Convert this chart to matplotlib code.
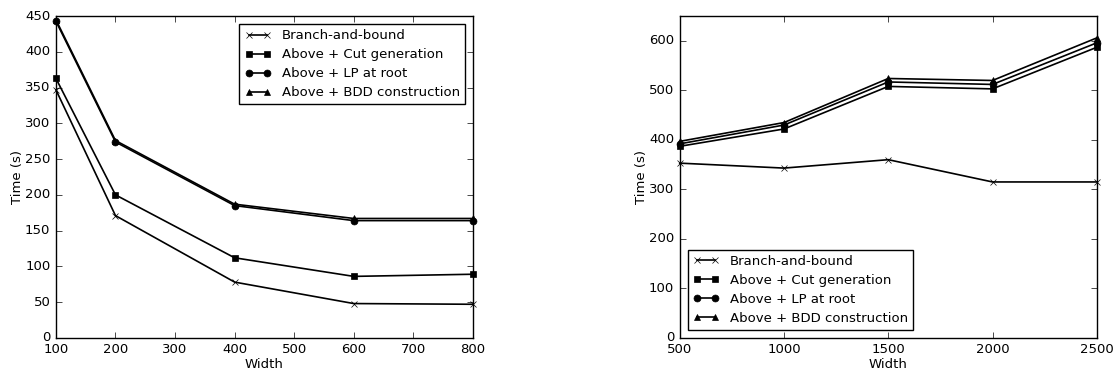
import matplotlib
matplotlib.use("Agg")
import matplotlib.pyplot as plt

plt.style.use("classic")
plt.rcParams["font.family"] = ["DejaVu Sans"]
plt.rcParams["font.size"] = 9.5

labels = ["Branch-and-bound", "Above + Cut generation", "Above + LP at root", "Above + BDD construction"]
markers = ["x", "s", "o", "^"]

widths_left = [100, 200, 400, 600, 800]
bnb_left = [347, 171, 78, 48, 47]
cut_left = [363, 200, 112, 86, 89]
lp_left = [443, 274, 185, 164, 164]
bdd_left = [445, 276, 187, 167, 167]

widths_right = [500, 1000, 1500, 2000, 2500]
bnb_right = [353, 343, 360, 315, 315]
cut_right = [387, 422, 508, 503, 587]
lp_right = [392, 430, 517, 512, 596]
bdd_right = [397, 435, 524, 520, 606]

fig = plt.figure(figsize=(11.18, 3.75), dpi=100, facecolor="white")
ax1 = fig.add_axes([0.050, 0.099, 0.373, 0.858])
ax2 = fig.add_axes([0.608, 0.099, 0.373, 0.858])

for ax, xs, series in [
    (ax1, widths_left, [bnb_left, cut_left, lp_left, bdd_left]),
    (ax2, widths_right, [bnb_right, cut_right, lp_right, bdd_right]),
]:
    for ys, m, lab in zip(series, markers, labels):
        ax.plot(xs, ys, color="black", marker=m, markersize=5, markeredgecolor="black",
                markerfacecolor="black", linewidth=1.2, label=lab, clip_on=False)
    ax.set_xlabel("Width", labelpad=1)
    ax.set_ylabel("Time (s)", labelpad=1)
    ax.set_facecolor("white")

ax1.set_xlim(100, 800)
ax1.set_ylim(0, 450)
ax1.set_yticks(range(0, 451, 50))
ax2.set_xlim(500, 2500)
ax2.set_ylim(0, 650)
ax2.set_xticks(range(500, 2501, 500))
ax2.set_yticks(range(0, 601, 100))

ax1.legend(loc="upper right", numpoints=2, fontsize=9.5, borderaxespad=0.6, handlelength=2.0,
           labelspacing=0.45, fancybox=False)
ax2.legend(loc="lower left", numpoints=2, fontsize=9.5, borderaxespad=0.6, handlelength=2.0,
           labelspacing=0.45, fancybox=False)

fig.savefig("out.png", dpi=100, facecolor="white")
